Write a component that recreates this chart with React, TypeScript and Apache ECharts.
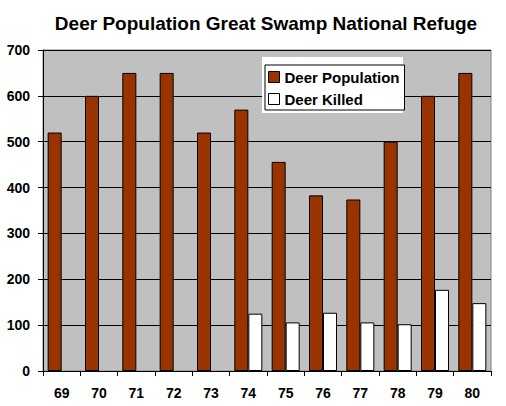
import React, { useEffect, useRef } from 'react';
import * as echarts from 'echarts';

// 年份
const years = ['69', '70', '71', '72', '73', '74', '75', '76', '77', '78', '79', '80'];
// 鹿群数量
const deerPopulation = [520, 600, 650, 650, 520, 570, 456, 383, 374, 500, 600, 650];
// 捕杀数量（69-73 无数据）
const deerKilled = [null, null, null, null, null, 125, 106, 127, 106, 102, 177, 148];

const FONT = "'Liberation Sans', Arial, sans-serif";

const App: React.FC = () => {
  const chartRef = useRef<HTMLDivElement>(null);

  useEffect(() => {
    document.body.style.margin = '0';
    if (!chartRef.current) return;
    const chart = echarts.init(chartRef.current, undefined, { renderer: 'svg' });

    chart.setOption({
      animation: false,
      backgroundColor: '#ffffff',
      textStyle: { fontFamily: FONT },
      title: {
        text: 'Deer Population Great Swamp National Refuge',
        left: 261,
        top: 9,
        textAlign: 'center',
        textStyle: { fontFamily: FONT, fontSize: 19, fontWeight: 'bold', color: '#000' },
      },
      graphic: [
        {
          type: 'rect',
          z: 3,
          shape: { x: 262, y: 57, width: 141, height: 56 },
          style: { fill: '#ffffff' },
          silent: true,
        },
      ],
      legend: {
        orient: 'vertical',
        left: 265,
        top: 65,
        z: 4,
        backgroundColor: '#ffffff',
        borderColor: '#000000',
        borderWidth: 1,
        padding: [4, 5, 3, 3],
        itemWidth: 11,
        itemHeight: 11,
        itemGap: 6,
        textStyle: { fontFamily: FONT, fontSize: 15, fontWeight: 'bold', color: '#000', lineHeight: 16 },
        data: [
          { name: 'Deer Population', icon: 'rect', itemStyle: { borderColor: '#000', borderWidth: 1 } },
          { name: 'Deer Killed', icon: 'rect', itemStyle: { borderColor: '#000', borderWidth: 1 } },
        ],
      },
      grid: {
        left: 43,
        right: 15,
        top: 50,
        bottom: 35,
        show: true,
        backgroundColor: '#C0C0C0',
        borderColor: '#808080',
        borderWidth: 1,
      },
      xAxis: {
        type: 'category',
        data: years,
        axisLine: { lineStyle: { color: '#000', width: 1 } },
        axisTick: { show: true, length: 5, lineStyle: { color: '#000' } },
        axisLabel: {
          fontFamily: FONT,
          fontSize: 14,
          fontWeight: 'bold',
          color: '#000',
          margin: 15,
        },
      },
      yAxis: {
        type: 'value',
        min: 0,
        max: 700,
        interval: 100,
        axisLine: { show: true, lineStyle: { color: '#000', width: 1 } },
        axisTick: { show: true, length: 5, lineStyle: { color: '#000' } },
        axisLabel: {
          fontFamily: FONT,
          fontSize: 14,
          fontWeight: 'bold',
          color: '#000',
          margin: 13,
        },
        splitLine: { show: true, lineStyle: { color: '#000', width: 1 } },
      },
      series: [
        {
          name: 'Deer Population',
          type: 'bar',
          data: deerPopulation,
          barWidth: 14,
          barGap: '0%',
          itemStyle: { color: '#993300', borderColor: '#000', borderWidth: 1 },
        },
        {
          name: 'Deer Killed',
          type: 'bar',
          data: deerKilled,
          barWidth: 14,
          barGap: '0%',
          itemStyle: { color: '#ffffff', borderColor: '#000', borderWidth: 1 },
        },
      ],
    });

    return () => {
      chart.dispose();
    };
  }, []);

  return <div ref={chartRef} style={{ width: '506px', height: '406px' }}></div>;
};

export default App;
